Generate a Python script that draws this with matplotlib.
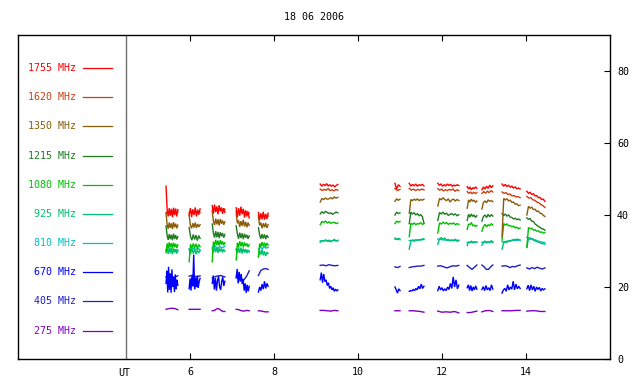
import numpy as np
import matplotlib
matplotlib.use("Agg")
import matplotlib.pyplot as plt

title = "18 06 2006"
freq_labels = ["1755 MHz", "1620 MHz", "1350 MHz", "1215 MHz", "1080 MHz",
               "925 MHz", "810 MHz", "670 MHz", "405 MHz", "275 MHz"]
colors = ["#ff0000", "#c84010", "#8b5c08", "#207a20", "#00c000",
          "#00c070", "#00c0c0", "#0000ff", "#2020c0", "#8000c0"]
xticks = [6, 8, 10, 12, 14]
yticks = [0, 20, 40, 60, 80]

seg_start = [5.43, 5.98, 6.53, 7.10, 7.63, 9.10, 10.88, 11.22, 11.90, 12.60, 12.95, 13.43, 14.02]
seg_end = [5.71, 6.24, 6.83, 7.41, 7.86, 9.52, 11.00, 11.57, 12.40, 12.83, 13.21, 13.86, 14.45]

f1755 = [
    [48.0, 41.5, 39.6, 41.9, 39.8, 41.7, 39.4, 42.0, 40.0, 41.8, 39.6, 41.5],
    [40.0, 41.9, 39.4, 41.6, 40.0, 42.1, 39.6, 41.5, 40.1, 41.7],
    [42.6, 40.4, 42.9, 40.8, 42.4, 40.2, 42.7, 41.0, 42.1, 40.3, 41.9, 40.7],
    [42.0, 39.4, 41.9, 39.8, 42.3, 40.2, 41.7, 39.3, 41.3, 39.6, 40.9, 39.2],
    [40.7, 38.6, 40.5, 38.8, 40.9, 38.7, 40.3, 38.9, 40.5],
    [48.6, 48.0, 48.5, 48.2, 48.7, 48.1, 48.4, 48.0, 48.3, 47.8, 48.2, 48.5],
    [48.8, 47.2, 48.4, 48.0],
    [48.8, 48.0, 48.5, 48.1, 48.6, 48.0, 48.4, 48.2, 48.5, 48.1],
    [48.8, 48.3, 48.6, 48.0, 48.4, 48.1, 48.6, 48.2, 48.5, 48.0, 48.3, 48.1, 48.4, 48.2],
    [47.9, 47.2, 47.8, 47.0, 47.6, 47.3, 47.8, 47.4],
    [47.0, 47.8, 47.2, 48.0, 47.4, 48.3, 47.6, 48.1],
    [48.6, 48.0, 48.5, 47.9, 48.3, 47.7, 48.0, 47.5, 47.8, 47.3, 47.5, 47.2],
    [46.6, 46.0, 46.3, 45.7, 45.9, 45.3, 45.4, 44.8, 44.9, 44.3, 44.4, 43.8],
]
f1620 = [
    [40.6, 41.0, 40.5, 40.9, 40.7, 41.0, 40.6, 40.8],
    [40.7, 41.0, 40.6, 40.9, 40.8, 41.0, 40.7],
    [41.4, 41.8, 41.3, 41.7, 41.5, 41.8, 41.4, 41.6],
    [41.0, 40.7, 41.1, 40.8, 41.0, 40.6, 40.9, 40.5],
    [39.8, 39.5, 39.9, 39.6, 39.8, 39.7],
    [47.2, 46.8, 47.1, 46.9, 47.3, 46.8, 47.0, 46.7, 47.1, 46.9],
    [47.4, 46.8, 47.1],
    [47.4, 46.9, 47.2, 46.8, 47.1, 46.9, 47.2, 47.0],
    [47.3, 46.9, 47.2, 46.7, 47.0, 46.8, 47.1, 46.9, 47.2, 46.6, 47.0, 46.8],
    [46.5, 46.0, 46.4, 45.9, 46.3, 46.0, 46.2],
    [46.0, 46.5, 46.1, 46.6, 46.2, 46.8, 46.4],
    [46.4, 46.0, 46.2, 45.7, 45.8, 45.3, 45.4, 45.0, 45.1, 44.8],
    [45.2, 44.7, 44.8, 44.2, 44.1, 43.6, 43.4, 42.9, 42.6, 42.1],
]
f1350 = [
    [40.5, 37.3, 36.2, 37.9, 36.4, 37.7, 36.1, 38.0, 36.6, 37.6, 36.3, 37.2],
    [40.0, 37.1, 36.3, 37.7, 36.5, 37.9, 36.4, 37.5, 36.7, 37.3],
    [41.0, 38.3, 37.2, 39.0, 37.4, 38.8, 37.1, 38.9, 37.6, 38.5, 37.3, 38.1],
    [40.5, 37.7, 38.5, 36.7, 38.3, 37.0, 38.7, 36.8, 38.1, 36.6, 37.9, 37.1],
    [39.5, 37.1, 37.9, 36.3, 37.7, 36.6, 37.8, 36.4, 37.3],
    [43.6, 44.6, 44.3, 44.7, 44.4, 44.5, 44.8, 44.5, 45.0, 44.7, 44.9],
    [43.8, 44.5, 44.1, 44.4],
    [40.5, 44.3, 44.0, 44.4, 44.1, 44.5, 44.0, 44.3, 44.1, 44.4],
    [42.5, 44.6, 44.2, 44.8, 44.3, 44.0, 44.5, 43.6, 44.2, 44.4, 43.9, 44.3, 44.0],
    [41.9, 44.2, 43.6, 44.4, 43.8, 44.1, 43.5, 43.9],
    [41.7, 43.5, 43.9, 43.4, 44.2, 43.8, 44.0, 43.7],
    [34.0, 44.6, 44.2, 44.5, 43.9, 44.1, 43.5, 43.6, 43.0, 43.1, 42.6, 42.7],
    [40.0, 42.4, 41.9, 42.2, 41.5, 41.6, 41.0, 41.1, 40.5, 40.4, 39.9, 39.6],
]
f1215 = [
    [37.0, 34.3, 33.1, 34.7, 33.3, 34.5, 33.0, 34.8, 33.4, 34.4, 33.2, 34.0],
    [36.5, 34.0, 33.0, 34.6, 33.2, 34.4, 32.9, 34.3, 33.5],
    [37.5, 34.9, 33.7, 35.5, 33.8, 35.3, 33.6, 35.2, 34.1, 35.0, 33.7, 34.6],
    [37.0, 34.7, 33.4, 35.1, 33.6, 34.9, 33.3, 34.8, 33.7, 34.5, 33.4, 34.2],
    [36.5, 34.4, 33.4, 34.7, 33.5, 34.6, 33.3, 34.4, 33.8],
    [40.3, 40.9, 40.5, 41.0, 40.7, 40.4, 40.6, 40.2, 40.5, 40.8, 40.6],
    [40.0, 40.8, 40.4, 40.6],
    [37.6, 40.8, 40.3, 40.6, 40.0, 40.4, 39.8, 40.1, 39.6, 37.8],
    [38.5, 40.7, 40.3, 40.8, 40.2, 40.5, 39.9, 40.2, 40.4, 40.0, 40.3, 39.8, 40.1],
    [38.5, 40.2, 39.4, 40.3, 39.6, 40.0, 39.3, 39.8],
    [38.3, 39.6, 40.0, 39.3, 40.2, 39.5, 40.1, 39.7],
    [40.4, 39.8, 40.3, 39.7, 40.0, 39.4, 39.3, 38.9, 39.1, 38.7, 38.9, 38.6],
    [39.2, 38.8, 39.0, 38.3, 38.2, 37.5, 37.2, 36.8, 36.6, 36.2, 36.1, 35.8],
]
f1080 = [
    [29.5, 32.1, 30.8, 32.4, 31.0, 32.2, 30.7, 32.3, 31.1, 32.0, 30.8, 31.7],
    [27.0, 31.9, 30.7, 32.1, 30.9, 32.0, 30.6, 31.8, 31.2],
    [27.0, 32.6, 31.4, 33.1, 31.6, 32.9, 31.5, 33.0, 31.8, 32.7, 31.6, 32.3],
    [27.5, 32.3, 31.1, 32.7, 31.3, 32.5, 31.0, 32.4, 31.4, 32.1, 31.1, 31.8],
    [28.5, 32.1, 31.1, 32.5, 31.3, 32.3, 31.2, 32.2, 31.6],
    [37.3, 38.2, 37.9, 38.3, 37.8, 38.1, 37.7, 37.9, 38.0, 37.6, 37.8],
    [37.6, 38.3, 38.0, 38.2],
    [34.0, 37.7, 37.4, 37.8, 37.3, 37.6, 37.5, 37.9, 37.4, 37.6],
    [35.0, 37.8, 37.5, 38.0, 37.6, 37.9, 37.4, 37.7, 37.5, 37.8, 37.3, 37.6, 37.4],
    [36.0, 37.5, 37.3, 37.9, 37.0, 37.2, 36.8, 37.1],
    [35.5, 36.8, 37.4, 36.7, 37.3, 37.0, 37.6, 37.2],
    [33.0, 37.6, 37.2, 37.5, 37.0, 37.1, 36.7, 36.9, 36.4, 36.6, 36.2, 36.4],
    [31.0, 36.5, 36.2, 36.3, 35.8, 35.9, 35.5, 35.6, 35.2, 35.3, 35.0, 35.1],
]
f925 = [
    [30.0, 30.9, 29.2, 31.0, 29.4, 30.8, 29.1, 30.7, 29.6, 30.5, 29.3, 30.2],
    [30.4, 29.2, 30.7, 29.3, 30.6, 29.1, 30.3, 29.5, 30.1],
    [30.6, 29.6, 31.2, 29.7, 31.0, 29.5, 30.9, 29.8, 30.7, 29.6, 30.5, 29.9],
    [30.6, 29.4, 31.0, 29.5, 30.9, 29.3, 30.7, 29.6, 30.5, 29.4, 30.3, 29.7],
    [28.3, 30.2, 29.0, 30.4, 28.8, 29.9, 28.6, 29.7, 29.3],
    [32.4, 32.9, 32.7, 33.1, 32.8, 33.0, 32.6, 32.9, 33.2, 32.8, 33.0],
    [33.6, 33.2, 33.5, 33.1],
    [30.5, 32.8, 33.0, 32.7, 33.1, 32.9, 33.2, 33.0, 33.4, 33.3],
    [31.8, 33.4, 33.7, 33.3, 33.6, 33.0, 33.2, 32.8, 33.1, 32.9, 33.3, 32.7, 32.9],
    [31.5, 32.5, 32.3, 32.8, 32.2, 32.6, 32.4, 32.5],
    [31.6, 32.4, 32.8, 32.2, 32.6, 32.3, 32.9, 32.4],
    [30.5, 32.3, 32.5, 32.4, 32.8, 32.7, 33.0, 33.2, 33.1, 33.3, 33.2, 33.0],
    [31.0, 33.5, 33.2, 33.4, 33.0, 32.8, 32.6, 32.5, 32.3, 32.1, 32.0, 31.9],
]
f810 = [
    [30.3, 30.0, 30.5, 30.1, 30.4, 30.2],
    [30.6, 30.2, 30.8, 30.4, 30.7, 30.3],
    [31.0, 31.4, 30.8, 31.2, 30.9, 31.3],
    [30.3, 30.0, 30.4, 30.1, 30.2, 29.9],
    [30.5, 31.0, 30.6, 31.2, 30.8, 31.0],
    [32.8, 32.9, 32.7, 32.9, 32.8],
    [33.3, 33.3],
    [32.9, 33.0, 33.1, 33.2],
    [33.3, 33.1, 33.0, 32.9, 33.0],
    [32.4, 32.5, 32.4],
    [32.4, 32.5, 32.5],
    [32.5, 32.7, 32.9, 33.0, 33.0],
    [33.8, 33.6, 33.2, 32.8, 32.5, 32.3],
]
f670 = [
    [21.0, 24.5, 18.5, 25.6, 19.2, 23.8, 18.4, 24.9, 20.0, 22.8, 18.6, 23.5, 19.4, 22.0, 20.5],
    [19.5, 22.4, 19.0, 23.0, 20.2, 29.0, 19.4, 22.6, 20.0, 23.2, 19.8, 21.5, 22.4],
    [21.0, 23.2, 19.3, 22.5, 19.0, 21.8, 23.0, 20.0, 19.2, 21.5, 22.8, 20.3, 21.6],
    [22.5, 25.0, 21.0, 24.2, 21.5, 23.6, 20.8, 22.0, 19.0, 21.0, 18.4, 20.6, 18.8, 20.2],
    [18.6, 20.0, 19.0, 20.8, 19.4, 21.6, 19.6, 21.0, 20.2],
    [22.0, 24.0, 21.2, 23.6, 21.5, 22.0, 20.4, 21.2, 19.6, 20.2, 19.2, 19.8, 18.8, 19.4, 18.9, 19.2],
    [20.0, 19.2, 18.3, 19.5, 19.0],
    [18.8, 19.0, 18.9, 19.3, 19.0, 19.6, 19.2, 20.2, 19.5, 20.8, 19.6, 20.2],
    [19.0, 20.2, 19.2, 19.8, 18.9, 19.5, 19.0, 20.0, 19.3, 21.0, 19.6, 22.8, 20.0, 22.0, 19.5, 20.5],
    [19.8, 20.6, 19.0, 20.4, 18.9, 20.0, 19.2, 20.3, 19.4],
    [19.3, 20.1, 19.0, 20.4, 19.2, 19.8, 19.0, 20.6, 19.4],
    [18.3, 19.2, 19.6, 18.8, 20.6, 19.2, 20.0, 19.4, 21.6, 19.2, 20.8, 19.5, 20.2, 19.6],
    [19.5, 20.5, 19.0, 20.6, 19.2, 20.2, 18.8, 20.0, 19.3, 19.9, 18.9, 19.6, 19.2, 19.5],
]
f405 = [
    [22.8, 23.0, 22.7, 23.1],
    [23.0, 23.3, 22.8, 23.1],
    [22.5, 23.0, 23.2, 22.8],
    [23.0, 22.6, 22.2, 22.0, 23.0, 24.5],
    [23.2, 24.6, 25.0, 25.1, 24.9],
    [26.0, 26.1, 25.9, 26.2, 26.0, 25.9, 26.0],
    [25.6, 25.4, 25.7],
    [25.4, 25.6, 25.7, 25.8, 25.8, 26.0],
    [25.8, 25.9, 25.6, 25.3, 25.6, 25.9, 25.8, 26.0],
    [26.0, 25.4, 24.9, 25.5, 26.1],
    [26.1, 25.6, 24.9, 24.9, 25.6, 26.1],
    [25.8, 25.9, 25.8, 25.4, 25.7, 25.6, 25.9, 26.1],
    [25.3, 25.0, 25.4, 25.1, 25.5, 25.2, 25.0, 25.3],
]
f275 = [
    [13.8, 14.0, 14.1, 14.0, 13.7],
    [13.8, 13.8, 13.8],
    [13.4, 13.5, 13.9, 14.0, 13.6, 13.2, 13.2],
    [13.8, 13.7, 13.4, 13.3, 13.5, 13.4],
    [13.4, 13.3, 13.1, 13.1],
    [13.5, 13.5, 13.4, 13.3, 13.5, 13.4],
    [13.4, 13.4],
    [13.4, 13.4, 13.3, 13.2, 13.0],
    [13.3, 13.0, 13.1, 13.0, 13.2, 12.8],
    [12.9, 12.9, 13.1, 13.3],
    [13.1, 13.4, 13.5, 13.2],
    [13.4, 13.4, 13.4, 13.5, 13.5],
    [13.3, 13.4, 13.4, 13.2, 13.2],
]

series = [f1755, f1620, f1350, f1215, f1080, f925, f810, f670, f405, f275]


def build(segs):
    xs, ys = [], []
    for k, vals in enumerate(segs):
        xs.extend(np.linspace(seg_start[k], seg_end[k], len(vals)))
        ys.extend(vals)
        xs.append(np.nan)
        ys.append(np.nan)
    return np.array(xs), np.array(ys)


W, H = 640, 384
fig = plt.figure(figsize=(6.4, 3.84), dpi=100)
ax = fig.add_axes([18 / W, (384 - 359) / H, (610 - 18) / W, (359 - 35) / H])

mono = "DejaVu Sans Mono"
fs = 7.2

# draw from lowest to highest frequency so red ends on top
for vals, col in reversed(list(zip(series, colors))):
    x, y = build(vals)
    ax.plot(x, y, color=col, lw=1.0, solid_joinstyle="miter")

ax.set_xlim(1.905, 16.0)
ax.set_ylim(0, 90)

# legend drawn inside the plot area
for i, (lab, col) in enumerate(zip(freq_labels, colors)):
    yy = 80.8 - 8.1 * i
    ax.text(3.29, yy, lab, color=col, family=mono, fontsize=fs,
            ha="right", va="center")
    ax.plot([3.45, 4.14], [yy, yy], color=col, lw=0.9)

ax.axvline(4.48, color="#707070", lw=1.0)

ax.set_xticks(xticks)
ax.set_xticklabels([str(t) for t in xticks], family=mono, fontsize=fs)
ax.tick_params(axis="x", direction="in", length=4, width=0.8, top=True,
               bottom=True, pad=6)
ax.yaxis.tick_right()
ax.set_yticks(yticks)
ax.set_yticklabels([str(t) for t in yticks], family=mono, fontsize=fs)
ax.tick_params(axis="y", direction="in", length=4, width=0.8, pad=5,
               left=False, right=True)
ax.text(4.43, -2.4, "UT", family=mono, fontsize=fs, ha="center", va="top")

for s in ax.spines.values():
    s.set_linewidth(1.0)
    s.set_color("black")

ax.set_title(title, family=mono, fontsize=fs, pad=11)

fig.savefig("out.png", dpi=100)
